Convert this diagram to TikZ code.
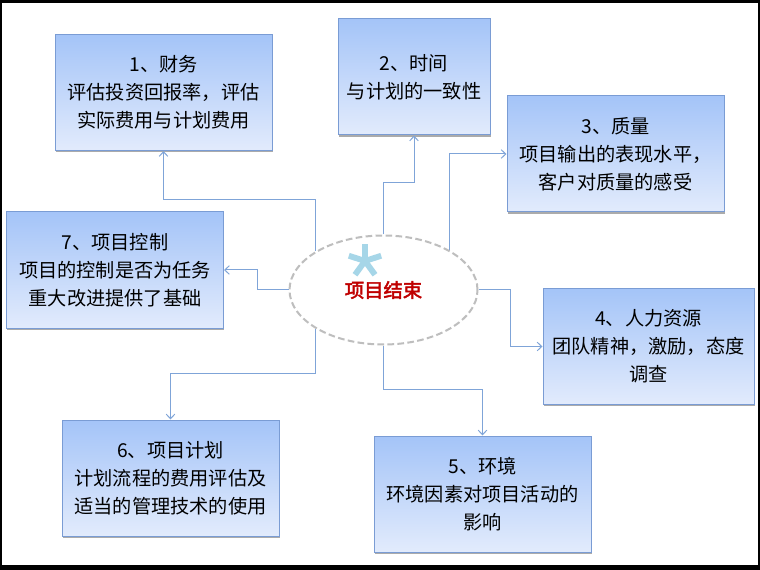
\documentclass[tikz,border=0pt]{standalone}
\usepackage{fontspec}
\setmainfont{Noto Sans CJK SC}[AutoFakeBold=2.5]
\usetikzlibrary{shapes.geometric,arrows.meta,shadows}

\definecolor{cardtop}{RGB}{164,196,248}
\definecolor{cardbot}{RGB}{226,235,252}
\definecolor{cardline}{RGB}{122,156,212}
\definecolor{linkblue}{RGB}{127,164,216}
\definecolor{ringgray}{RGB}{190,190,190}
\definecolor{endred}{RGB}{192,0,0}
\definecolor{starblue}{RGB}{166,214,232}

\begin{document}
\begin{tikzpicture}[x=0.75pt, y=-0.75pt,
    card/.style={draw=cardline, line width=0.75pt, top color=cardtop, bottom color=cardbot,
        minimum width=162.75pt, minimum height=87pt, inner sep=0pt, align=center,
        font=\fontsize{14.4}{21}\selectfont,
        drop shadow={shadow xshift=0.4pt, shadow yshift=-1.3pt, fill=black!55, opacity=0.6}},
    link/.style={draw=linkblue, line width=0.75pt, -{Straight Barb[length=3.5pt,width=6.5pt]}}
]

    % ==========================================
    % FRAME: black border round the slide
    % ==========================================
    \useasboundingbox (0,0) rectangle (760,570);
    \fill[black] (0,0) rectangle (760,570);
    \fill[white] (2,3) rectangle (758,565);

    % ==========================================
    % BOXES: the seven review areas
    % ==========================================
    \node[card] (cost) at (163.5,92.5) {1、财务\\评估投资回报率，评估\\实际费用与计划费用};
    \node[card, minimum width=114pt] (time) at (414,77) {2、时间\\与计划的一致性};
    \node[card] (quality) at (615.5,154) {3、质量\\项目输出的表现水平，\\客户对质量的感受};
    \node[card, minimum width=158.25pt] (people) at (648.5,346.5) {4、人力资源\\团队精神，激励，态度\\调查};
    \node[card] (envir) at (482.5,494) {5、环境\\环境因素对项目活动的\\影响};
    \node[card] (plan) at (170.5,478) {6、项目计划\\计划流程的费用评估及\\适当的管理技术的使用};
    \node[card] (control) at (115,270) {7、项目控制\\项目的控制是否为任务\\重大改进提供了基础};

    % ==========================================
    % CENTRE: dashed ellipse with the title
    % ==========================================
    \node[ellipse, draw=ringgray, line width=1.5pt, dash pattern=on 5pt off 2.5pt,
        minimum width=141pt, minimum height=81.75pt, inner sep=0pt,
        text=endred, font=\fontsize{14.5}{14.5}\selectfont\bfseries] (end) at (383.5,290) {项目结束};

    % Light blue asterisk above the title
    \foreach \a in {270,342,198,126,54}
        \draw[starblue, line width=4.4pt] (365,261) -- ++(\a:17);

    % ==========================================
    % LINKS: elbow connectors out to the boxes
    % ==========================================
    \coordinate (k1) at (163.5,200);
    \coordinate (k2) at (414,183);
    \coordinate (k4) at (510,346.5);
    \coordinate (k5) at (482.5,389);
    \coordinate (k6) at (170.5,373);
    \coordinate (k7) at (257,270);

    \draw[link] (end.150) |- (k1) -- (cost.south);
    \draw[link] (end.north) |- (k2) -- (time.south);
    \draw[link] (end.31) |- (quality.west);
    \draw[link] (end.east) -| (k4) -- (people.west);
    \draw[link] (end.south) |- (k5) -- (envir.north);
    \draw[link] (end.210) |- (k6) -- (plan.north);
    \draw[link] (end.west) -| (k7) -- (control.east);

\end{tikzpicture}
\end{document}
